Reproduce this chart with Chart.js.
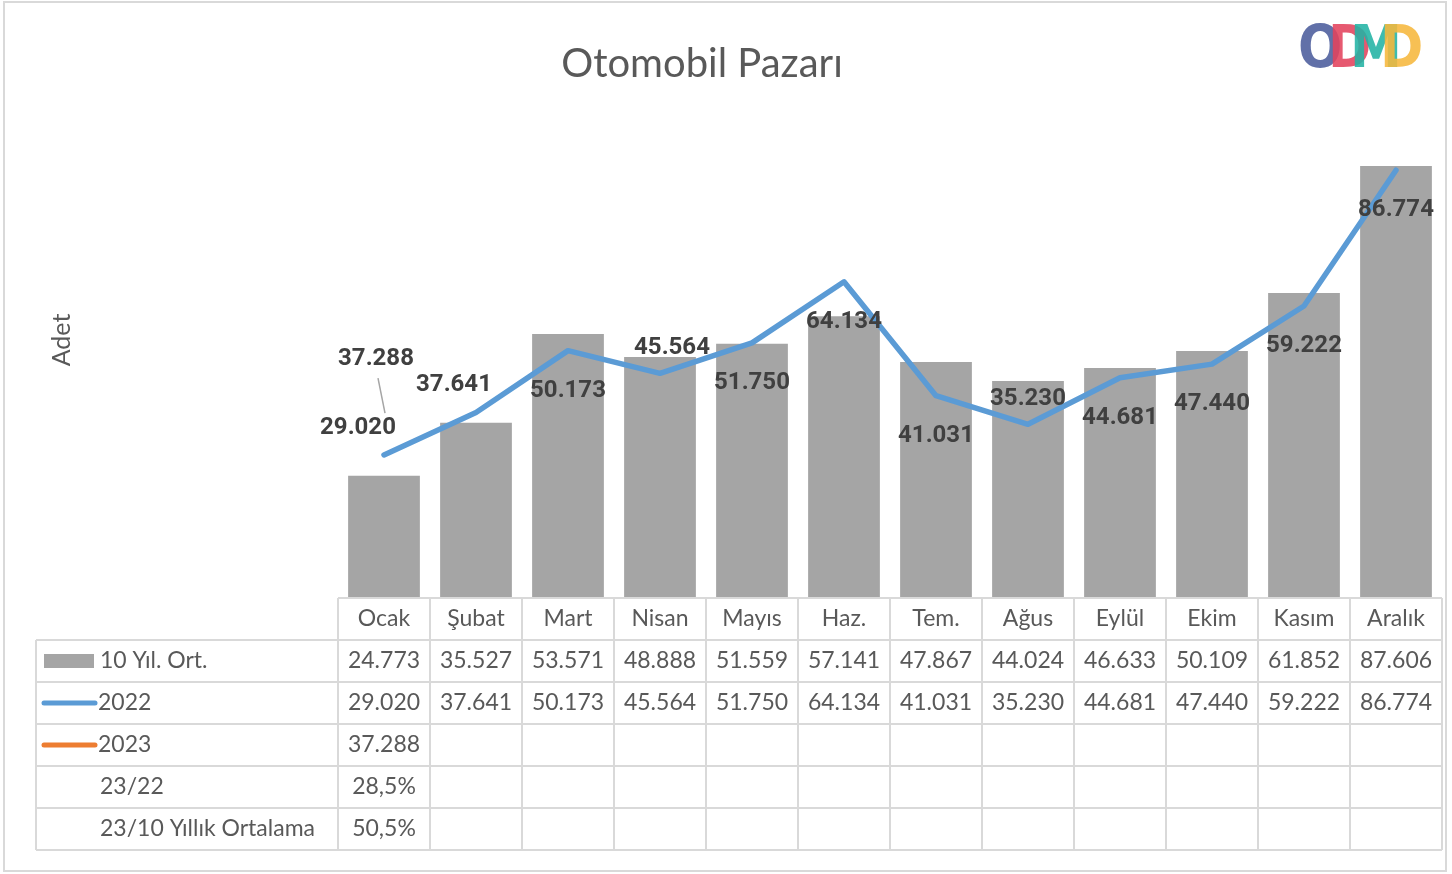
<!DOCTYPE html>
<html>
<head>
<meta charset="utf-8">
<script src="https://cdn.jsdelivr.net/npm/chart.js@4"></script>
<style>
html,body{margin:0;padding:0;background:#fff;}
#wrap{width:1452px;height:874px;position:relative;}
</style>
</head>
<body>
<div id="wrap"><canvas id="c" width="1452" height="874"></canvas></div>
<script>
// ---- data ----
const months = ['Ocak','Şubat','Mart','Nisan','Mayıs','Haz.','Tem.','Ağus','Eylül','Ekim','Kasım','Aralık'];
const avg10 = [24773,35527,53571,48888,51559,57141,47867,44024,46633,50109,61852,87606];
const y2022 = [29020,37641,50173,45564,51750,64134,41031,35230,44681,47440,59222,86774];
const y2023 = [37288,null,null,null,null,null,null,null,null,null,null,null];
const ratio2322 = ['28,5%'];
const ratio2310 = ['50,5%'];
const rowNames = ['10 Yıl. Ort.','2022','2023','23/22','23/10 Yıllık Ortalama'];
const chartTitle = 'Otomobil Pazarı';
const yTitle = 'Adet';

// label placement for 2022 series
const place2022 = ['upleft','upleft','below','above','below','below','below','above','below','below','below','below'];

const fmt = v => (v==null) ? '' : String(v).replace(/\B(?=(\d{3})+(?!\d))/g,'.');

const GRID = '#D9D9D9';
const TXT = '#595959';
const TABLEFONT = '23px Lato, "Open Sans", sans-serif';

const decor = {
  id:'decor',
  beforeDraw(chart){
    const ctx = chart.ctx;
    ctx.save();
    ctx.fillStyle='#fff';
    ctx.fillRect(0,0,chart.width,chart.height);
    // outer frame
    ctx.strokeStyle='#D9D9D9'; ctx.lineWidth=2;
    ctx.strokeRect(4,2,1442,869);
    // title
    ctx.fillStyle=TXT; ctx.font='40px Lato, "Open Sans", sans-serif';
    ctx.textAlign='center'; ctx.textBaseline='middle';
    ctx.fillText(chartTitle, 702, 64);
    // y title
    ctx.save();
    ctx.translate(62,340); ctx.rotate(-Math.PI/2);
    ctx.font='25px Lato, "Open Sans", sans-serif';
    ctx.fillText(yTitle,0,0);
    ctx.restore();
    // logo
    const letters=[['O','#4B5C9C',1298],['D','#E3425C',1328],['M','#22B3A4',1350],['D','#F6B73C',1380]];
    ctx.font='bold 58px "DejaVu Sans", sans-serif';
    ctx.textAlign='left'; ctx.textBaseline='alphabetic';
    ctx.globalAlpha=0.88;
    letters.forEach(l=>{
      ctx.save(); ctx.translate(l[2],67); ctx.scale(0.9,1);
      ctx.fillStyle=l[1]; ctx.fillText(l[0],0,0);
      ctx.restore();
    });
    ctx.globalAlpha=1;
    ctx.restore();
  },
  afterDatasetsDraw(chart){
    const ctx = chart.ctx;
    const xs = chart.scales.x, ys = chart.scales.y;
    ctx.save();
    // data labels for 2022
    ctx.font='bold 24px Roboto, sans-serif';
    ctx.fillStyle='#404040';
    ctx.textAlign='center'; ctx.textBaseline='middle';
    y2022.forEach((v,i)=>{
      const px = xs.getPixelForValue(i), py = ys.getPixelForValue(v);
      let dx=0, dy=0;
      if(place2022[i]==='below'){dy=40;}
      else if(place2022[i]==='above'){dy=-25; dx=(i===3)?12:0;}
      else if(place2022[i]==='upleft'){dx=(i===0)?-26:-22; dy=-27;}
      ctx.fillText(fmt(v), px+dx, py+dy);
    });
    // 2023 label with leader line
    y2023.forEach((v,i)=>{
      if(v==null) return;
      const px = xs.getPixelForValue(i), py = ys.getPixelForValue(v);
      ctx.strokeStyle='#A6A6A6'; ctx.lineWidth=1.5;
      ctx.beginPath(); ctx.moveTo(px+1,py-1); ctx.lineTo(px-6,py-36); ctx.stroke();
      ctx.fillText(fmt(v), px-8, py-55);
    });
    ctx.restore();
  },
  afterDraw(chart){
    const ctx = chart.ctx;
    const xs = chart.scales.x;
    const area = chart.chartArea;
    const colW = (area.right-area.left)/months.length;
    const top = area.bottom, rowH = 42;
    const left = 36;
    const nRows = 5;
    const bottom = top + rowH*(nRows+1);
    ctx.save();
    ctx.strokeStyle=GRID; ctx.lineWidth=2;
    // header top
    ctx.beginPath(); ctx.moveTo(area.left,top); ctx.lineTo(area.right,top); ctx.stroke();
    for(let r=1;r<=nRows+1;r++){
      const y=top+rowH*r;
      ctx.beginPath(); ctx.moveTo(left,y); ctx.lineTo(area.right,y); ctx.stroke();
    }
    ctx.beginPath(); ctx.moveTo(left,top+rowH); ctx.lineTo(left,bottom); ctx.stroke();
    for(let c=0;c<=months.length;c++){
      const x=area.left+colW*c;
      ctx.beginPath(); ctx.moveTo(x,top); ctx.lineTo(x,bottom); ctx.stroke();
    }
    ctx.fillStyle=TXT; ctx.font=TABLEFONT;
    ctx.textBaseline='middle'; ctx.textAlign='center';
    const rows=[avg10.map(fmt), y2022.map(fmt), y2023.map(fmt), ratio2322, ratio2310];
    months.forEach((m,i)=>{
      const cx = xs.getPixelForValue(i);
      ctx.fillText(m, cx, top+rowH/2);
      rows.forEach((row,r)=>{
        const t=row[i]; if(t) ctx.fillText(t, cx, top+rowH*(r+1)+rowH/2);
      });
    });
    // row headers
    ctx.textAlign='left';
    rowNames.forEach((n,r)=>{
      const cy = top+rowH*(r+1)+rowH/2;
      ctx.fillStyle=TXT;
      ctx.fillText(n, (r===1||r===2)?98:100, cy);
    });
    // swatches
    let cy = top+rowH*1+rowH/2;
    ctx.fillStyle='#A5A5A5'; ctx.fillRect(44,cy-7,50,14);
    ctx.lineCap='round'; ctx.lineWidth=5;
    cy = top+rowH*2+rowH/2;
    ctx.strokeStyle='#5B9BD5'; ctx.beginPath(); ctx.moveTo(44,cy); ctx.lineTo(95,cy); ctx.stroke();
    cy = top+rowH*3+rowH/2;
    ctx.strokeStyle='#ED7D31'; ctx.beginPath(); ctx.moveTo(44,cy); ctx.lineTo(95,cy); ctx.stroke();
    ctx.restore();
  }
};

new Chart(document.getElementById('c'),{
  data:{
    labels:months,
    datasets:[
      {type:'bar',label:'10 Yıl. Ort.',data:avg10,backgroundColor:'#A5A5A5',barPercentage:0.78,categoryPercentage:1,order:2},
      {type:'line',label:'2022',data:y2022,borderColor:'#5B9BD5',borderWidth:5.5,pointRadius:0,tension:0,borderCapStyle:'round',borderJoinStyle:'round',order:0},
      {type:'line',label:'2023',data:y2023,borderColor:'#ED7D31',borderWidth:5,pointRadius:0,tension:0,order:1}
    ]
  },
  options:{
    responsive:false,
    animation:false,
    layout:{padding:{left:338,right:10,top:105,bottom:276}},
    plugins:{legend:{display:false},tooltip:{enabled:false},title:{display:false}},
    scales:{
      x:{display:false},
      y:{display:false,min:0,max:100000}
    }
  },
  plugins:[decor]
});
</script>
</body>
</html>
